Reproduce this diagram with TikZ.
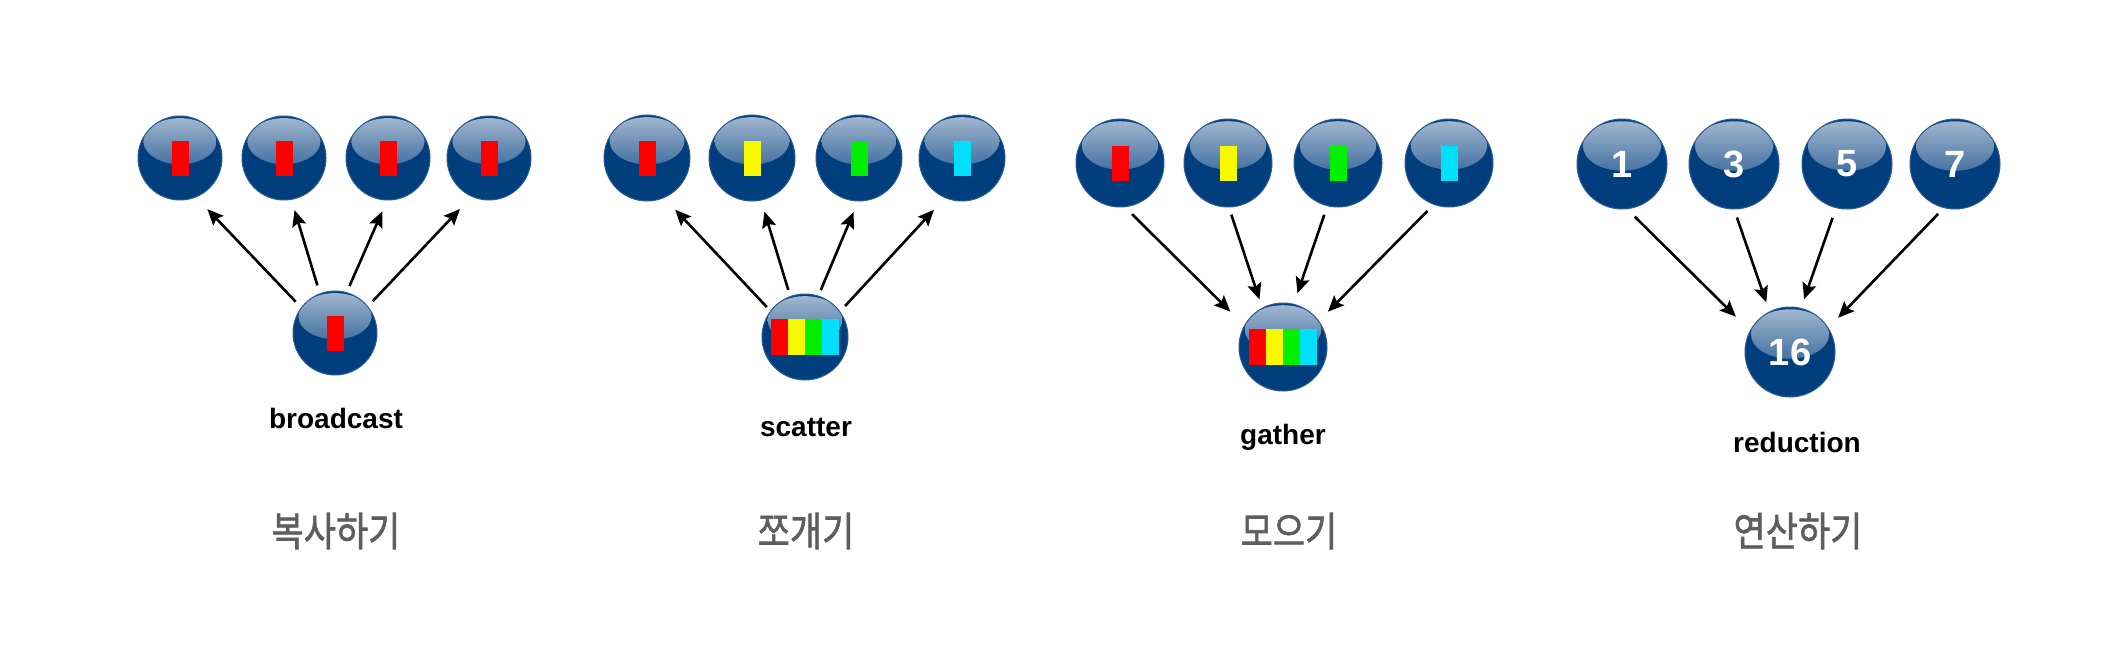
\documentclass[tikz,border=0pt]{standalone}
\usepackage{fontspec}
\setmainfont{Liberation Sans}
\newfontfamily\cjk[FakeBold=1.6]{Noto Sans CJK KR}
\usepackage{graphicx}
\usetikzlibrary{calc,arrows.meta}
\definecolor{ballnavy}{HTML}{003E7E}
\definecolor{ballhi}{HTML}{A4B9D1}
\definecolor{ballrim}{HTML}{2C5C94}
\definecolor{chipred}{HTML}{FF0000}
\definecolor{chipyel}{HTML}{F8F800}
\definecolor{chipgrn}{HTML}{00F000}
\definecolor{chipcyn}{HTML}{00E0FA}
\definecolor{korgray}{HTML}{5E5E5E}

\begin{document}
\begin{tikzpicture}[x=0.5pt, y=-0.5pt, >={Stealth[length=8pt,width=7pt,inset=1.4pt]},
  ball/.style={circle, fill=ballnavy, draw=ballrim, line width=0.5pt,
    inner sep=0pt, outer sep=0pt, minimum size=2*#1, text=white,
    font=\bfseries\fontsize{19pt}{19pt}\selectfont,
    path picture={\shade[top color=ballhi, bottom color=ballnavy]
      ([yshift=0.4*#1]path picture bounding box.center)
      ellipse [x radius=0.87*#1, y radius=0.55*#1];}},
  chip/.style={inner sep=0pt, outer sep=0pt, minimum width=8.5pt, minimum height=17.5pt},
  wide/.style={chip, minimum height=18pt},
  arrowline/.style={->, line width=1.3pt},
  caption/.style={anchor=base, font=\bfseries\fontsize{14pt}{14pt}\selectfont},
  korlabel/.style={text=korgray, font=\cjk\fontsize{17.5pt}{17.5pt}\selectfont}]

% page frame, in pixels of the 2106 x 650 picture (y grows downward)
\useasboundingbox (0,0) rectangle (2106,650);

% --- broadcast ---
\node[ball=21pt] (t1) at (180,158) {};
\node[ball=21pt] (t2) at (284,158) {};
\node[ball=21pt] (t3) at (388,158) {};
\node[ball=21pt] (t4) at (489,158) {};
\node[ball=21pt] (b1) at (335,333) {};
\node[chip, fill=chipred] (t1c) at (t1) {};
\node[chip, fill=chipred] (t2c) at (t2) {};
\node[chip, fill=chipred] (t3c) at (t3) {};
\node[chip, fill=chipred] (t4c) at (t4) {};
\node[chip, fill=chipred] (b1c) at (b1) {};
\draw[arrowline, shorten <=4.2pt, shorten >=8.4pt] (b1.143)  -- (t1.-68);
\draw[arrowline, shorten <=4.4pt, shorten >=5.6pt] (b1.111)  -- (t2.-80);
\draw[arrowline, shorten <=3.6pt, shorten >=6.2pt] (b1.74.5) -- (t3.-91);
\draw[arrowline, shorten <=3.7pt, shorten >=8.7pt] (b1.39)   -- (t4.-114);
\node[caption] (cap1) at (336,428) {broadcast};
\node[korlabel] (kor1) at (336,531) {\scalebox{1}[1.15]{복사하기}};

% --- scatter ---
\node[ball=21.5pt] (s1) at (647,158) {};
\node[ball=21.5pt] (s2) at (752,158) {};
\node[ball=21.5pt] (s3) at (859,158) {};
\node[ball=21.5pt] (s4) at (962,158) {};
\node[ball=21.5pt] (b2) at (805,337) {};
\node[chip, fill=chipred] (s1c) at (s1) {};
\node[chip, fill=chipyel] (s2c) at (s2) {};
\node[chip, fill=chipgrn] (s3c) at (s3) {};
\node[chip, fill=chipcyn] (s4c) at (s4) {};
\node[wide, fill=chipred] (b2c1) at ([xshift=-12.75pt]b2) {};
\node[wide, fill=chipyel] (b2c2) at ([xshift=-4.25pt]b2) {};
\node[wide, fill=chipgrn] (b2c3) at ([xshift=4.25pt]b2) {};
\node[wide, fill=chipcyn] (b2c4) at ([xshift=12.75pt]b2) {};
\draw[arrowline, shorten <=2.8pt, shorten >=8.3pt] (b2.143) -- (s1.-67);
\draw[arrowline, shorten <=3.5pt, shorten >=6pt]   (b2.110) -- (s2.-78.5);
\draw[arrowline, shorten <=3.2pt, shorten >=6pt]   (b2.72)  -- (s3.-91);
\draw[arrowline, shorten <=3.9pt, shorten >=8.3pt] (b2.36)  -- (s4.-113);
\node[caption] (cap2) at (806,436) {scatter};
\node[korlabel] (kor2) at (806,531) {\scalebox{1}[1.15]{쪼개기}};

% --- gather ---
\node[ball=22pt] (g1) at (1120,163) {};
\node[ball=22pt] (g2) at (1228,163) {};
\node[ball=22pt] (g3) at (1338,163) {};
\node[ball=22pt] (g4) at (1449,163) {};
\node[ball=22pt] (b3) at (1283,347) {};
\node[chip, fill=chipred] (g1c) at (g1) {};
\node[chip, fill=chipyel] (g2c) at (g2) {};
\node[chip, fill=chipgrn] (g3c) at (g3) {};
\node[chip, fill=chipcyn] (g4c) at (g4) {};
\node[wide, fill=chipred] (b3c1) at ([xshift=-12.75pt]b3) {};
\node[wide, fill=chipyel] (b3c2) at ([xshift=-4.25pt]b3) {};
\node[wide, fill=chipgrn] (b3c3) at ([xshift=4.25pt]b3) {};
\node[wide, fill=chipcyn] (b3c4) at ([xshift=12.75pt]b3) {};
\draw[arrowline, shorten <=5.2pt, shorten >=10pt]  (g1.-84)  -- (b3.151);
\draw[arrowline, shorten <=4pt,   shorten >=4.6pt] (g2.-89)  -- (b3.118);
\draw[arrowline, shorten <=4.8pt, shorten >=5.8pt] (g3.-104) -- (b3.76.5);
\draw[arrowline, shorten <=4.6pt, shorten >=6.6pt] (g4.-110) -- (b3.36.5);
\node[caption] (cap3) at (1283,444) {gather};
\node[korlabel] (kor3) at (1289,531) {\scalebox{1}[1.15]{모으기}};

% --- reduction ---
\node[ball=22.5pt] (r1) at (1622,164) {1};
\node[ball=22.5pt] (r2) at (1734,164) {3};
\node[ball=22.5pt] (r3) at (1847,164) {5};
\node[ball=22.5pt] (r4) at (1955,164) {7};
\node[ball=22.5pt] (b4) at (1790,352) {16};
\draw[arrowline, shorten <=5.6pt, shorten >=10.1pt] (r1.-84)    -- (b4.152.6);
\draw[arrowline, shorten <=4.5pt, shorten >=5pt]    (r2.-90)    -- (b4.117);
\draw[arrowline, shorten <=5.4pt, shorten >=4.8pt]  (r3.-104.5) -- (b4.76);
\draw[arrowline, shorten <=4.3pt, shorten >=7.2pt]  (r4.-104)   -- (b4.32.6);
\node[caption] (cap4) at (1797,452) {reduction};
\node[korlabel] (kor4) at (1798,531) {\scalebox{1}[1.15]{연산하기}};

\end{tikzpicture}
\end{document}
